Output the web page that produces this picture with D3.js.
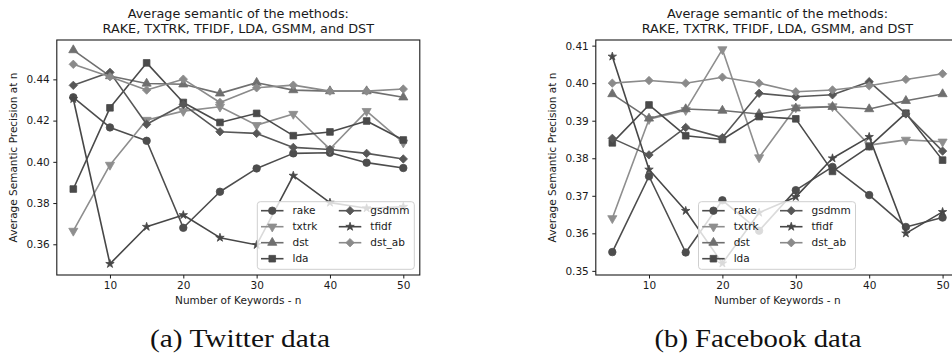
<!DOCTYPE html>
<html><head><meta charset="utf-8">
<script src="https://cdn.jsdelivr.net/npm/d3@7"></script>
<style>
body{margin:0;background:#fff;}
svg{display:block;font-family:"DejaVu Sans",sans-serif;}
</style></head>
<body><svg id="c" width="952" height="356"></svg>
<script>
const keywords = [5,10,15,20,25,30,35,40,45,50];
const methods = ["rake","txtrk","dst","lda","gsdmm","tfidf","dst_ab"];
const xTicks = [10,20,30,40,50];
const twitterYTicks = [0.36,0.38,0.40,0.42,0.44];
const facebookYTicks = [0.35,0.36,0.37,0.38,0.39,0.40,0.41];

// Twitter
const twRake   = [0.4313,0.4167,0.4102,0.3680,0.3855,0.3968,0.4041,0.4044,0.3996,0.3970];
const twTxtrk  = [0.3665,0.3985,0.4203,0.4246,0.4267,0.4178,0.4232,0.4062,0.4246,0.4093];
const twDst    = [0.4542,0.4416,0.4380,0.4376,0.4332,0.4384,0.4348,0.4343,0.4343,0.4313];
const twLda    = [0.3868,0.4262,0.4480,0.4288,0.4191,0.4235,0.4127,0.4145,0.4198,0.4106];
const twGsdmm  = [0.4371,0.4434,0.4182,0.4278,0.4146,0.4138,0.4070,0.4060,0.4041,0.4014];
const twTfidf  = [0.4305,0.3505,0.3685,0.3742,0.3632,0.3597,0.3933,0.3802,0.3775,0.3782];
const twDstAb  = [0.4473,0.4413,0.4348,0.4401,0.4288,0.4359,0.4372,0.4343,0.4343,0.4353];

// Facebook
const fbRake   = [0.3550,0.3752,0.3549,0.3688,0.3607,0.3715,0.3777,0.3702,0.3617,0.3642];
const fbTxtrk  = [0.3640,0.3904,0.3928,0.4090,0.3802,0.3935,0.3938,0.3835,0.3849,0.3844];
const fbDst    = [0.3971,0.3906,0.3931,0.3927,0.3918,0.3933,0.3937,0.3931,0.3953,0.3971];
const fbLda    = [0.3841,0.3942,0.3860,0.3850,0.3911,0.3905,0.3765,0.3831,0.3920,0.3795];
const fbGsdmm  = [0.3853,0.3809,0.3882,0.3855,0.3973,0.3964,0.3969,0.4004,0.3918,0.3819];
const fbTfidf  = [0.4071,0.3770,0.3660,0.3520,0.3655,0.3697,0.3800,0.3857,0.3600,0.3657];
const fbDstAb  = [0.4000,0.4007,0.4000,0.4016,0.4000,0.3977,0.3982,0.3993,0.4010,0.4025];

const styles = {
  rake:  {color:"#4d4d4d", marker:"circle"},
  txtrk: {color:"#8e8e8e", marker:"tridown"},
  dst:   {color:"#6f6f6f", marker:"triup"},
  lda:   {color:"#4a4a4a", marker:"square"},
  gsdmm: {color:"#575757", marker:"diamond"},
  tfidf: {color:"#474747", marker:"star"},
  dst_ab:{color:"#8a8a8a", marker:"diamond"}
};

function markerPath(m){
  if(m==="circle") return d3.symbol(d3.symbolCircle,44)();
  if(m==="square") return d3.symbol(d3.symbolSquare,44)();
  if(m==="triup") return d3.symbol(d3.symbolTriangle,36)();
  if(m==="tridown") return d3.symbol(d3.symbolTriangle,36)();
  if(m==="star") return d3.symbol(d3.symbolStar,22)();
  if(m==="diamond") return "M0,-4.2L4.2,0L0,4.2L-4.2,0Z";
}
function markerTransform(m,x,y){
  return `translate(${x},${y})` + (m==="tridown" ? " rotate(180)" : "");
}

const svg = d3.select("#c");

function drawChart(cfg){
  const x = d3.scaleLinear().domain([2.75,52.25]).range([cfg.left,cfg.right]);
  const y = d3.scaleLinear().domain(cfg.yDomain).range([275,40]);
  const g = svg.append("g");

  // title
  const t = g.append("text").attr("text-anchor","middle").attr("font-size",12.8).attr("fill","#1a1a1a");
  t.append("tspan").attr("x",(cfg.left+cfg.right)/2).attr("y",17.5).text("Average semantic of the methods:");
  t.append("tspan").attr("x",(cfg.left+cfg.right)/2).attr("y",33.2).text("RAKE, TXTRK, TFIDF, LDA, GSMM, and DST");

  // series
  const data = cfg.series;
  methods.forEach((m,i)=>{
    const vals = data[i];
    const st = styles[m];
    const line = d3.line().x((d,j)=>x(keywords[j])).y(d=>y(d));
    g.append("path").attr("d",line(vals)).attr("fill","none")
      .attr("stroke",st.color).attr("stroke-width",1.6).attr("stroke-linejoin","round");
    g.selectAll(null).data(vals).enter().append("path")
      .attr("d",markerPath(st.marker))
      .attr("transform",(d,j)=>markerTransform(st.marker,x(keywords[j]),y(d)))
      .attr("fill",st.color).attr("stroke",st.color).attr("stroke-width",0.8);
  });

  // axes
  const xa = g.append("g").attr("transform","translate(0,275)")
    .call(d3.axisBottom(x).tickValues(xTicks).tickFormat(d3.format("d")).tickSize(3.5).tickPadding(3.5));
  const ya = g.append("g").attr("transform",`translate(${cfg.left},0)`)
    .call(d3.axisLeft(y).tickValues(cfg.yTicks).tickFormat(d3.format(".2f")).tickSize(3.5).tickPadding(3.5));
  [xa,ya].forEach(a=>{
    a.select(".domain").remove();
    a.selectAll("line").attr("stroke","#1a1a1a").attr("stroke-width",1);
    a.selectAll("text").attr("font-size",10.5).attr("fill","#1a1a1a").attr("font-family","DejaVu Sans");
  });
  // frame
  g.append("rect").attr("x",cfg.left).attr("y",40).attr("width",cfg.right-cfg.left).attr("height",235)
    .attr("fill","none").attr("stroke","#1a1a1a").attr("stroke-width",1.1);

  // axis labels
  g.append("text").attr("x",(cfg.left+cfg.right)/2).attr("y",303.5).attr("text-anchor","middle")
    .attr("font-size",10.5).attr("fill","#1a1a1a").text("Number of Keywords - n");
  g.append("text").attr("transform",`translate(${cfg.ylabX},157.5) rotate(-90)`).attr("text-anchor","middle")
    .attr("font-size",10.5).attr("fill","#1a1a1a").text("Average Semantic Precision at n");

  // legend
  const lx = cfg.legendX, ly = 201.7;
  const lg = g.append("g").attr("transform",`translate(${lx},${ly})`);
  lg.append("rect").attr("x",0).attr("y",0).attr("width",157).attr("height",67.6).attr("rx",3)
    .attr("fill","#fff").attr("fill-opacity",0.8).attr("stroke","#cfcfcf").attr("stroke-width",1);
  methods.forEach((m,i)=>{
    const col = i<4 ? 0 : 1, row = i<4 ? i : i-4;
    const hx = col===0 ? 3.7 : 81.5;
    const cy = 9 + row*16;
    const st = styles[m];
    lg.append("line").attr("x1",hx).attr("x2",hx+22.5).attr("y1",cy).attr("y2",cy)
      .attr("stroke",st.color).attr("stroke-width",1.6);
    lg.append("path").attr("d",markerPath(st.marker)).attr("transform",markerTransform(st.marker,hx+11.25,cy))
      .attr("fill",st.color).attr("stroke",st.color).attr("stroke-width",0.8);
    lg.append("text").attr("x",hx+31.5).attr("y",cy+3.8).attr("font-size",10.5).attr("fill","#1a1a1a").text(m);
  });

  // caption
  svg.append("text").attr("x",cfg.capX).attr("y",347).attr("text-anchor","middle")
    .attr("font-family","Liberation Serif").attr("font-size",25).attr("fill","#111")
    .attr("textLength",cfg.capW).attr("lengthAdjust","spacingAndGlyphs").text(cfg.caption);
}

drawChart({left:56.8,right:419.8,yDomain:[0.3451,0.4591],yTicks:twitterYTicks,
  series:[twRake,twTxtrk,twDst,twLda,twGsdmm,twTfidf,twDstAb],
  ylabX:16.5,legendX:257.3,capX:240,capW:180,caption:"(a) Twitter data"});
drawChart({left:595.8,right:959.1,yDomain:[0.3489,0.4115],yTicks:facebookYTicks,
  series:[fbRake,fbTxtrk,fbDst,fbLda,fbGsdmm,fbTfidf,fbDstAb],
  ylabX:556,legendX:698.5,capX:758,capW:207,caption:"(b) Facebook data"});
</script></body></html>
